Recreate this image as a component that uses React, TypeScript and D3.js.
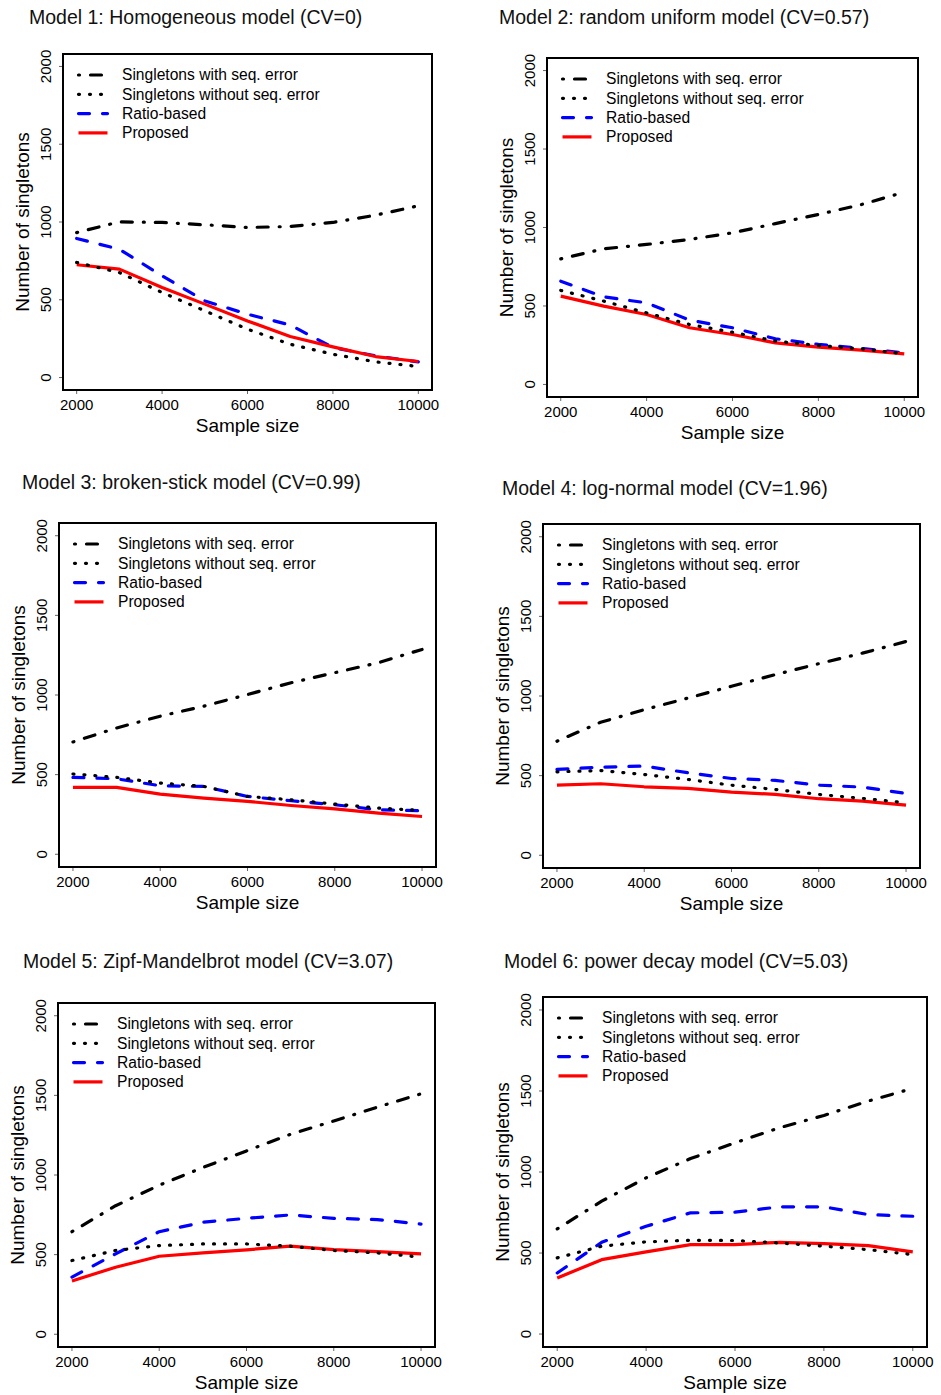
import * as d3 from "d3";

const sampleSizes = [2000, 3000, 4000, 5000, 6000, 7000, 8000, 9000, 10000];
const xTicks = [2000, 4000, 6000, 8000, 10000];
const yTicks = [0, 500, 1000, 1500, 2000];
const legendLabels = [
  "Singletons with seq. error",
  "Singletons without seq. error",
  "Ratio-based",
  "Proposed",
];
const titles = [
  "Model 1: Homogeneous model (CV=0)",
  "Model 2: random uniform model (CV=0.57)",
  "Model 3: broken-stick model (CV=0.99)",
  "Model 4: log-normal model (CV=1.96)",
  "Model 5: Zipf-Mandelbrot model (CV=3.07)",
  "Model 6: power decay model (CV=5.03)",
];

// values, one array per model and series
const m1WithErr = [932, 1001, 997, 982, 965, 971, 997, 1044, 1104];
const m1WithoutErr = [740, 675, 547, 429, 311, 214, 150, 101, 71];
const m1Ratio = [894, 825, 654, 493, 407, 338, 193, 139, 101];
const m1Proposed = [725, 697, 579, 472, 364, 264, 197, 135, 103];

const m2WithErr = [800, 864, 892, 924, 966, 1025, 1083, 1146, 1225];
const m2WithoutErr = [599, 531, 456, 382, 333, 276, 248, 227, 195];
const m2Ratio = [658, 558, 520, 410, 361, 291, 255, 230, 200];
const m2Proposed = [563, 499, 446, 361, 318, 265, 238, 219, 195];

const m3WithErr = [705, 793, 867, 930, 1003, 1077, 1140, 1203, 1286];
const m3WithoutErr = [504, 483, 447, 426, 363, 342, 315, 290, 275];
const m3Ratio = [483, 474, 430, 426, 363, 336, 311, 279, 273];
const m3Proposed = [420, 420, 378, 353, 332, 306, 285, 258, 237];

const m4WithErr = [716, 835, 914, 987, 1061, 1134, 1203, 1269, 1342];
const m4WithoutErr = [524, 532, 507, 476, 440, 413, 382, 357, 330];
const m4Ratio = [539, 553, 560, 518, 482, 470, 440, 428, 388];
const m4Proposed = [440, 449, 430, 420, 397, 382, 355, 340, 315];

const m5WithErr = [644, 807, 936, 1047, 1151, 1255, 1339, 1426, 1510];
const m5WithoutErr = [463, 526, 557, 567, 567, 553, 526, 511, 484];
const m5Ratio = [359, 505, 644, 703, 728, 749, 728, 720, 692];
const m5Proposed = [334, 421, 490, 511, 530, 553, 532, 519, 505];

const m6WithErr = [649, 820, 964, 1083, 1180, 1273, 1349, 1438, 1516];
const m6WithoutErr = [470, 542, 569, 579, 577, 562, 542, 521, 490];
const m6Ratio = [377, 566, 665, 748, 752, 785, 785, 737, 727];
const m6Proposed = [346, 459, 507, 552, 552, 566, 558, 546, 507];

const models = [
  [m1WithErr, m1WithoutErr, m1Ratio, m1Proposed],
  [m2WithErr, m2WithoutErr, m2Ratio, m2Proposed],
  [m3WithErr, m3WithoutErr, m3Ratio, m3Proposed],
  [m4WithErr, m4WithoutErr, m4Ratio, m4Proposed],
  [m5WithErr, m5WithoutErr, m5Ratio, m5Proposed],
  [m6WithErr, m6WithoutErr, m6Ratio, m6Proposed],
];

// each panel was a separate R plot, so the boxes differ a little
const panels = [
  { l: 63, t: 54, r: 432, b: 390, tx: 29, ty: 17 },
  { l: 547, t: 58, r: 918, b: 397, tx: 499, ty: 17 },
  { l: 59, t: 523, r: 436, b: 867, tx: 22, ty: 482 },
  { l: 543, t: 524, r: 920, b: 868, tx: 502, ty: 488 },
  { l: 58, t: 1003, r: 435, b: 1347, tx: 23, ty: 961 },
  { l: 543, t: 997, r: 927, b: 1347, tx: 504, ty: 961 },
];

// dash lengths assume round caps (R's default)
const styles = [
  { color: "#000", dash: "1 11 11 11" },
  { color: "#000", dash: "1 10" },
  { color: "#0000ff", dash: "11 13" },
  { color: "#ff0000", dash: "none" },
];
const drawOrder = [2, 3, 0, 1];

const font = "'Liberation Sans', Arial, sans-serif";

function Panel({ idx }: { idx: number }) {
  const p = panels[idx];
  const series = models[idx];
  // R pads the axis ranges by 4%
  const x = d3.scaleLinear().domain([1680, 10320]).range([p.l, p.r]);
  const y = d3.scaleLinear().domain([-80, 2080]).range([p.b, p.t]);
  const line = d3
    .line<number>()
    .x((_, i) => x(sampleSizes[i]))
    .y((d) => y(d));

  return (
    <g>
      <text x={p.tx} y={p.ty} dy="0.35em" fontSize={19.5} fill="#111">
        {titles[idx]}
      </text>
      {drawOrder.map((s) => (
        <path
          key={s}
          d={line(series[s]) || ""}
          fill="none"
          stroke={styles[s].color}
          strokeWidth={3.2}
          strokeDasharray={styles[s].dash}
          strokeLinecap={s === 3 ? "butt" : "round"}
          strokeLinejoin="round"
        />
      ))}
      <rect
        x={p.l}
        y={p.t}
        width={p.r - p.l}
        height={p.b - p.t}
        fill="none"
        stroke="#000"
        strokeWidth={2}
      />
      {yTicks.map((v) => (
        <g key={"y" + v}>
          <line x1={p.l - 4} x2={p.l - 1} y1={y(v)} y2={y(v)} stroke="#666" strokeWidth={1} />
          <text
            transform={`translate(${p.l - 17},${y(v)}) rotate(-90)`}
            textAnchor="middle"
            dy="0.35em"
            fontSize={15}
          >
            {v}
          </text>
        </g>
      ))}
      {xTicks.map((v) => (
        <g key={"x" + v}>
          <line x1={x(v)} x2={x(v)} y1={p.b + 1} y2={p.b + 4} stroke="#666" strokeWidth={1} />
          <text x={x(v)} y={p.b + 15} textAnchor="middle" dy="0.35em" fontSize={15}>
            {v}
          </text>
        </g>
      ))}
      <text x={(p.l + p.r) / 2} y={p.b + 35} textAnchor="middle" dy="0.35em" fontSize={19}>
        Sample size
      </text>
      <text
        transform={`translate(${p.l - 41},${(p.t + p.b) / 2}) rotate(-90)`}
        textAnchor="middle"
        dy="0.35em"
        fontSize={19}
      >
        Number of singletons
      </text>
      {legendLabels.map((lab, i) => {
        const ly = p.t + 21 + i * 19.3;
        return (
          <g key={lab}>
            <line
              x1={p.l + 15.5}
              x2={p.l + 44.5}
              y1={ly}
              y2={ly}
              stroke={styles[i].color}
              strokeWidth={3.2}
              strokeDasharray={styles[i].dash}
              strokeLinecap={i === 3 ? "butt" : "round"}
            />
            <text x={p.l + 59} y={ly} dy="0.35em" fontSize={15.6}>
              {lab}
            </text>
          </g>
        );
      })}
    </g>
  );
}

export default function App() {
  return (
    <svg
      width={941}
      height={1395}
      style={{ position: "absolute", left: 0, top: 0, background: "#fff" }}
      fontFamily={font}
    >
      <rect width={941} height={1395} fill="#fff" />
      {panels.map((_, i) => (
        <Panel key={i} idx={i} />
      ))}
    </svg>
  );
}
